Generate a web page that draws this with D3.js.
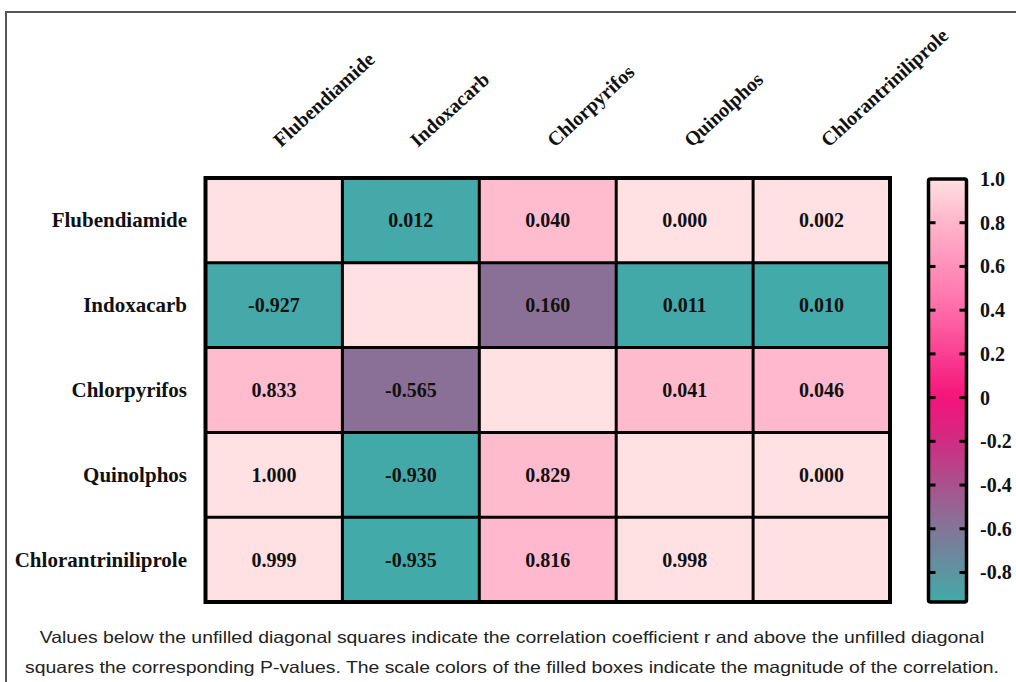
<!DOCTYPE html>
<html>
<head>
<meta charset="utf-8">
<script src="https://cdn.jsdelivr.net/npm/d3@7"></script>
<style>
  html, body { margin: 0; padding: 0; background: #fff; }
  svg { display: block; }
</style>
</head>
<body>
<svg id="chart" width="1016" height="682"></svg>
<script>
// Insecticides compared in the correlation matrix
const pesticides = ["Flubendiamide", "Indoxacarb", "Chlorpyrifos", "Quinolphos", "Chlorantriniliprole"];

// Correlation coefficients r (lower triangle, row by row)
const rIndoxacarb = [-0.927];
const rChlorpyrifos = [0.833, -0.565];
const rQuinolphos = [1.000, -0.930, 0.829];
const rChlorantriniliprole = [0.999, -0.935, 0.816, 0.998];
const rLower = [[], rIndoxacarb, rChlorpyrifos, rQuinolphos, rChlorantriniliprole];

// P-values (upper triangle, row by row)
const pFlubendiamide = [0.012, 0.040, 0.000, 0.002];
const pIndoxacarb = [0.160, 0.011, 0.010];
const pChlorpyrifos = [0.041, 0.046];
const pQuinolphos = [0.000];
const pUpper = [pFlubendiamide, pIndoxacarb, pChlorpyrifos, pQuinolphos, []];

// Colour bar ticks and range
const scaleTicks = [1.0, 0.8, 0.6, 0.4, 0.2, 0, -0.2, -0.4, -0.6, -0.8];
const scaleRange = [-0.935, 1.0];

const caption = [
  "Values below the unfilled diagonal squares indicate the correlation coefficient r and above the unfilled diagonal",
  "squares the corresponding P-values. The scale colors of the filled boxes indicate the magnitude of the correlation."
];

// Build the cell table from the triangles
const n = pesticides.length;
const cells = [];
for (let i = 0; i < n; i++) {
  for (let j = 0; j < n; j++) {
    let r, label;
    if (i === j) { r = 1; label = ""; }
    else if (i > j) { r = rLower[i][j]; label = r.toFixed(3); }
    else { r = rLower[j][i]; label = pUpper[i][j - i - 1].toFixed(3); }
    cells.push({ row: pesticides[i], col: pesticides[j], r, label });
  }
}

const svg = d3.select("#chart");
const serif = "'Liberation Serif', 'Times New Roman', serif";

// Colour scale: teal (negative) through magenta (zero) to pale pink (positive)
const color = d3.scaleLinear()
  .domain([-0.935, -0.565, -0.2, 0, 0.4, 0.82, 1.0])
  .range(["#42aaa8", "#8a7096", "#cf2c82", "#f5137a", "#ff6ba8", "#ffb9cd", "#ffe0e3"])
  .interpolate(d3.interpolateRgb)
  .clamp(true);

// Outer frame
svg.append("path")
  .attr("d", "M6,690 L6,12 L1020,12")
  .attr("fill", "none")
  .attr("stroke", "#555")
  .attr("stroke-width", 2);

const x = d3.scaleBand().domain(pesticides).range([205.5, 890]);
const y = d3.scaleBand().domain(pesticides).range([178, 602]);

// Cells
const g = svg.append("g");
g.selectAll("rect.cell")
  .data(cells)
  .join("rect")
  .attr("class", "cell")
  .attr("x", d => x(d.col))
  .attr("y", d => y(d.row))
  .attr("width", x.bandwidth())
  .attr("height", y.bandwidth())
  .attr("fill", d => color(d.r));

// Grid lines
const edgesX = pesticides.map(p => x(p)).concat([x.range()[1]]);
const edgesY = pesticides.map(p => y(p)).concat([y.range()[1]]);
g.selectAll("line.v")
  .data(edgesX.slice(1, -1))
  .join("line")
  .attr("x1", d => d).attr("x2", d => d)
  .attr("y1", y.range()[0]).attr("y2", y.range()[1])
  .attr("stroke", "#000").attr("stroke-width", 3);
g.selectAll("line.h")
  .data(edgesY.slice(1, -1))
  .join("line")
  .attr("y1", d => d).attr("y2", d => d)
  .attr("x1", x.range()[0]).attr("x2", x.range()[1])
  .attr("stroke", "#000").attr("stroke-width", 3);
g.append("rect")
  .attr("x", x.range()[0]).attr("y", y.range()[0])
  .attr("width", x.range()[1] - x.range()[0])
  .attr("height", y.range()[1] - y.range()[0])
  .attr("fill", "none").attr("stroke", "#000").attr("stroke-width", 4);

// Cell values
g.selectAll("text.val")
  .data(cells.filter(d => d.label))
  .join("text")
  .attr("x", d => x(d.col) + x.bandwidth() / 2)
  .attr("y", d => y(d.row) + y.bandwidth() / 2 + 7)
  .attr("text-anchor", "middle")
  .attr("font-family", serif)
  .attr("font-weight", "bold")
  .attr("font-size", 20)
  .attr("fill", "#111")
  .text(d => d.label);

// Row labels
svg.selectAll("text.rowlab")
  .data(pesticides)
  .join("text")
  .attr("x", 187)
  .attr("y", d => y(d) + y.bandwidth() / 2 + 7)
  .attr("text-anchor", "end")
  .attr("font-family", serif)
  .attr("font-weight", "bold")
  .attr("font-size", 21)
  .attr("fill", "#111")
  .text(d => d);

// Column labels, slanted
svg.selectAll("text.collab")
  .data(pesticides)
  .join("text")
  .attr("transform", d => `translate(${x(d) + x.bandwidth() / 2 + 7},148) rotate(-42.5)`)
  .attr("text-anchor", "start")
  .attr("font-family", serif)
  .attr("font-weight", "bold")
  .attr("font-size", 20)
  .attr("fill", "#111")
  .text(d => d);

// Colour bar
const cb = { x: 928.5, w: 38 };
const cy = d3.scaleLinear().domain(scaleRange).range([602, 179]);
const defs = svg.append("defs");
const grad = defs.append("linearGradient")
  .attr("id", "cbGrad")
  .attr("x1", 0).attr("y1", 1).attr("x2", 0).attr("y2", 0);
const nStops = 40;
d3.range(nStops + 1).forEach(k => {
  const v = scaleRange[0] + (scaleRange[1] - scaleRange[0]) * k / nStops;
  grad.append("stop").attr("offset", k / nStops).attr("stop-color", color(v));
});
svg.append("rect")
  .attr("x", cb.x).attr("y", cy(scaleRange[1]))
  .attr("width", cb.w).attr("height", cy(scaleRange[0]) - cy(scaleRange[1]))
  .attr("rx", 2)
  .attr("fill", "url(#cbGrad)")
  .attr("stroke", "#000").attr("stroke-width", 3.5);

const tickVals = scaleTicks.filter(v => v < 1);
svg.selectAll("line.tl")
  .data(tickVals)
  .join("line")
  .attr("x1", cb.x).attr("x2", cb.x + 7)
  .attr("y1", d => cy(d)).attr("y2", d => cy(d))
  .attr("stroke", "#000").attr("stroke-width", 3);
svg.selectAll("line.tr")
  .data(tickVals)
  .join("line")
  .attr("x1", cb.x + cb.w - 7).attr("x2", cb.x + cb.w)
  .attr("y1", d => cy(d)).attr("y2", d => cy(d))
  .attr("stroke", "#000").attr("stroke-width", 3);
svg.selectAll("text.tick")
  .data(scaleTicks)
  .join("text")
  .attr("x", 980)
  .attr("y", d => cy(d) + 7)
  .attr("font-family", serif)
  .attr("font-weight", "bold")
  .attr("font-size", 20)
  .attr("fill", "#111")
  .text(d => d === 0 ? "0" : d.toFixed(1));

// Caption, stretched horizontally around the page centre
svg.append("g")
  .attr("transform", "translate(512,0) scale(1.175,1)")
  .selectAll("text.caption")
  .data(caption)
  .join("text")
  .attr("x", 0)
  .attr("y", (d, i) => 643 + i * 30)
  .attr("text-anchor", "middle")
  .attr("font-family", "'Liberation Sans', Arial, sans-serif")
  .attr("font-size", 16.5)
  .attr("fill", "#222")
  .text(d => d);
</script>
</body>
</html>
